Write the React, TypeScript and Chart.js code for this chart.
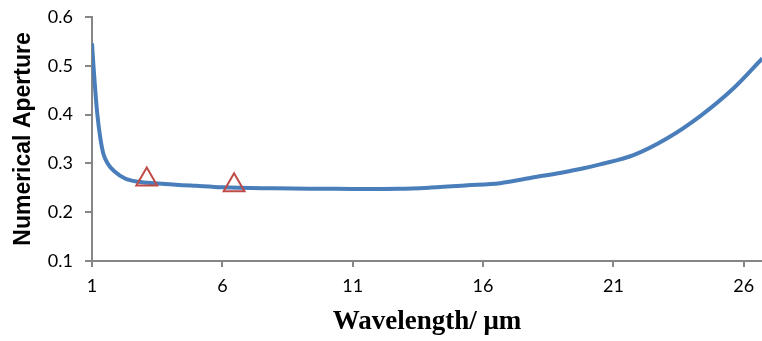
import React, { useEffect, useRef } from "react";
import { Chart, registerables } from "chart.js";

Chart.register(...registerables);

const wavelength = [1.0, 1.05, 1.115, 1.2, 1.31, 1.43, 1.6, 1.88, 2.27, 2.78, 3.8, 5.0, 6.0, 8.0, 10.0, 11.0, 12.8, 14.0, 15.4, 16.65, 17.94, 19.0, 19.86, 20.49, 21.77, 23.05, 24.33, 25.61, 26.71];
const numericalAperture = [0.546, 0.505, 0.457, 0.403, 0.355, 0.321, 0.3, 0.283, 0.269, 0.2625, 0.258, 0.254, 0.251, 0.249, 0.248, 0.2475, 0.248, 0.2505, 0.255, 0.2595, 0.2715, 0.281, 0.29, 0.298, 0.317, 0.351, 0.397, 0.454, 0.515];

const measuredWavelength = [3.1, 6.45];
const measuredNA = [0.267, 0.255];

const xTicks = [1, 6, 11, 16, 21, 26];
const yTicks = [0.1, 0.2, 0.3, 0.4, 0.5, 0.6];

export default function App() {
  const ref = useRef<HTMLCanvasElement | null>(null);
  useEffect(() => {
    if (!ref.current) return;
    document.documentElement.style.overflow = "hidden";
    document.body.style.margin = "0";
    document.body.style.overflow = "hidden";
    const chart = new Chart(ref.current, {
      type: "scatter",
      data: {
        datasets: [
          {
            label: "Calculated",
            data: wavelength.map((x, i) => ({ x, y: numericalAperture[i] })),
            showLine: true,
            borderColor: "#4a7ebb",
            borderWidth: 4,
            pointRadius: 0,
            cubicInterpolationMode: "monotone",
            order: 2,
          },
          {
            label: "Measured",
            data: measuredWavelength.map((x, i) => ({ x, y: measuredNA[i] })),
            showLine: false,
            pointStyle: "triangle",
            pointRadius: 12,
            borderColor: "#be4b48",
            backgroundColor: "rgba(0,0,0,0)",
            pointBorderWidth: 2,
            order: 1,
          },
        ],
      },
      options: {
        animation: false,
        responsive: false,
        devicePixelRatio: 1,
        layout: { autoPadding: false, padding: { top: 17, right: 0, left: 0, bottom: 0 } },
        plugins: { legend: { display: false }, tooltip: { enabled: false } },
        scales: {
          x: {
            type: "linear",
            min: 1,
            max: 26.7,
            afterBuildTicks: (s: any) => {
              s.ticks = xTicks.map((v) => ({ value: v }));
            },
            afterFit: (s: any) => {
              s.height = 80;
              s.paddingLeft = 0;
              s.paddingRight = 0;
            },
            grid: { display: true, drawOnChartArea: false, drawTicks: true, tickLength: 6, color: "#868686", lineWidth: 2 },
            border: { display: true, color: "#868686", width: 2 },
            ticks: {
              color: "#000",
              font: { family: "Lato", size: 18 },
              padding: 8,
              maxRotation: 0,
              callback: (v: any) => String(v),
            },
            title: {
              display: true,
              text: "Wavelength/ μm",
              color: "#000",
              font: { family: "Liberation Serif", size: 27, weight: "bold" },
              padding: { top: 0, bottom: 3 },
            },
          },
          y: {
            type: "linear",
            min: 0.1,
            max: 0.6,
            afterBuildTicks: (s: any) => {
              s.ticks = yTicks.map((v) => ({ value: v }));
            },
            afterFit: (s: any) => {
              s.width = 92;
              s.paddingTop = 0;
              s.paddingBottom = 0;
            },
            grid: { display: true, drawOnChartArea: false, drawTicks: true, tickLength: 7, color: "#868686", lineWidth: 2 },
            border: { display: true, color: "#868686", width: 2 },
            ticks: {
              color: "#000",
              font: { family: "Lato", size: 18 },
              padding: 12,
              callback: (v: any) => Number(v).toFixed(1),
            },
            title: {
              display: true,
              text: "Numerical Aperture",
              color: "#000",
              font: { family: "Liberation Sans", size: 23, weight: "bold" },
              padding: { top: 10, bottom: 0 },
            },
          },
        },
      },
    });
    return () => chart.destroy();
  }, []);
  return (
    <div style={{ position: "absolute", left: 0, top: 0, width: 762, height: 341, background: "#fff" }}>
      <canvas ref={ref} width={762} height={341} style={{ display: "block", width: 762, height: 341 }} />
    </div>
  );
}
